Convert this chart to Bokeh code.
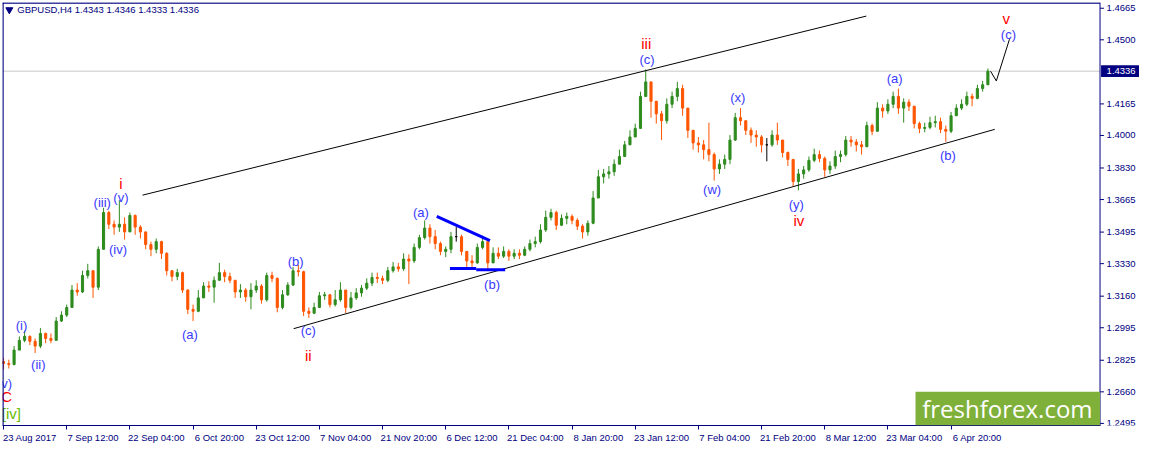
from bokeh.plotting import figure
from bokeh.models import (ColumnDataSource, Range1d, FixedTicker, Span, Label,
                          BoxAnnotation)
from bokeh.core.properties import value
from bokeh.embed import file_html
from bokeh.resources import INLINE

# GBPUSD H4, one candle per trading day (approx)
first_open = 1.2818
closes = [
    1.2808, 1.2803, 1.2878, 1.2929, 1.2950, 1.2924, 1.2899, 1.2965, 1.2939, 1.2929,
    1.3030, 1.3061, 1.3101, 1.3192, 1.3182, 1.3268, 1.3293, 1.3207, 1.3405, 1.3597,
    1.3536, 1.3521, 1.3536, 1.3496, 1.3582, 1.3521, 1.3496, 1.3430, 1.3405, 1.3445,
    1.3384, 1.3293, 1.3263, 1.3283, 1.3192, 1.3091, 1.3081, 1.3151, 1.3213, 1.3207,
    1.3243, 1.3283, 1.3263, 1.3243, 1.3182, 1.3192, 1.3157, 1.3192, 1.3213, 1.3141,
    1.3268, 1.3253, 1.3101, 1.3167, 1.3218, 1.3293, 1.3288, 1.3081, 1.3071, 1.3101,
    1.3162, 1.3167, 1.3116, 1.3141, 1.3192, 1.3101, 1.3151, 1.3177, 1.3202, 1.3228,
    1.3258, 1.3253, 1.3243, 1.3293, 1.3313, 1.3303, 1.3354, 1.3344, 1.3415, 1.3466,
    1.3516, 1.3471, 1.3435, 1.3394, 1.3405, 1.3471, 1.3471, 1.3394, 1.3344, 1.3334,
    1.3415, 1.3445, 1.3334, 1.3384, 1.3369, 1.3394, 1.3369, 1.3384, 1.3374, 1.3405,
    1.3435, 1.3445, 1.3506, 1.3572, 1.3597, 1.3531, 1.3567, 1.3577, 1.3556, 1.3526,
    1.3496, 1.3541, 1.3673, 1.3784, 1.3799, 1.3810, 1.3850, 1.3890, 1.3951, 1.3992,
    1.4037, 1.4204, 1.4280, 1.4179, 1.4113, 1.4077, 1.4163, 1.4204, 1.4245, 1.4143,
    1.4027, 1.3961, 1.3951, 1.3926, 1.3900, 1.3825, 1.3850, 1.3875, 1.3976, 1.4093,
    1.4077, 1.4027, 1.4002, 1.3992, 1.3951, 1.3951, 1.4002, 1.3976, 1.3911, 1.3875,
    1.3759, 1.3799, 1.3820, 1.3870, 1.3900, 1.3880, 1.3820, 1.3840, 1.3890, 1.3900,
    1.3976, 1.3966, 1.3951, 1.3941, 1.4052, 1.4022, 1.4143, 1.4128, 1.4163, 1.4204,
    1.4143, 1.4174, 1.4153, 1.4062, 1.4037, 1.4042, 1.4067, 1.4072, 1.4032, 1.4022,
    1.4103, 1.4143, 1.4163, 1.4204, 1.4194, 1.4245, 1.4265, 1.4336,
]
highs = [
    1.2838, 1.2828, 1.2899, 1.2950, 1.2980, 1.2955, 1.2939, 1.2994, 1.2970, 1.2965,
    1.3051, 1.3081, 1.3116, 1.3218, 1.3228, 1.3293, 1.3329, 1.3293, 1.3420, 1.3622,
    1.3607, 1.3556, 1.3663, 1.3572, 1.3597, 1.3587, 1.3531, 1.3496, 1.3445, 1.3461,
    1.3450, 1.3389, 1.3293, 1.3303, 1.3288, 1.3197, 1.3116, 1.3192, 1.3233, 1.3238,
    1.3263, 1.3334, 1.3298, 1.3283, 1.3243, 1.3223, 1.3202, 1.3228, 1.3243, 1.3223,
    1.3283, 1.3288, 1.3258, 1.3192, 1.3233, 1.3313, 1.3324, 1.3293, 1.3101, 1.3126,
    1.3182, 1.3182, 1.3172, 1.3192, 1.3233, 1.3192, 1.3182, 1.3202, 1.3218, 1.3253,
    1.3283, 1.3283, 1.3268, 1.3313, 1.3339, 1.3334, 1.3384, 1.3379, 1.3435, 1.3481,
    1.3556, 1.3536, 1.3506, 1.3445, 1.3420, 1.3496, 1.3521, 1.3481, 1.3394, 1.3374,
    1.3435, 1.3476, 1.3445, 1.3415, 1.3415, 1.3420, 1.3405, 1.3405, 1.3405, 1.3420,
    1.3456, 1.3471, 1.3536, 1.3607, 1.3617, 1.3607, 1.3587, 1.3597, 1.3587, 1.3567,
    1.3536, 1.3556, 1.3709, 1.3820, 1.3825, 1.3840, 1.3875, 1.3926, 1.3971, 1.4027,
    1.4062, 1.4229, 1.4345, 1.4280, 1.4179, 1.4128, 1.4194, 1.4229, 1.4280, 1.4265,
    1.4143, 1.4027, 1.3992, 1.3976, 1.4067, 1.3911, 1.3875, 1.3900, 1.4002, 1.4118,
    1.4143, 1.4077, 1.4042, 1.4027, 1.4002, 1.3987, 1.4027, 1.4067, 1.3976, 1.3916,
    1.3875, 1.3825, 1.3840, 1.3890, 1.3931, 1.3921, 1.3890, 1.3865, 1.3921, 1.3921,
    1.3997, 1.3997, 1.3981, 1.3971, 1.4072, 1.4062, 1.4174, 1.4163, 1.4189, 1.4229,
    1.4245, 1.4194, 1.4189, 1.4153, 1.4072, 1.4067, 1.4098, 1.4103, 1.4093, 1.4052,
    1.4123, 1.4163, 1.4189, 1.4229, 1.4219, 1.4265, 1.4285, 1.4350,
]
lows = [
    1.2777, 1.2782, 1.2798, 1.2878, 1.2919, 1.2904, 1.2863, 1.2888, 1.2914, 1.2914,
    1.2929, 1.3025, 1.3051, 1.3101, 1.3162, 1.3177, 1.3253, 1.3151, 1.3192, 1.3405,
    1.3511, 1.3481, 1.3496, 1.3456, 1.3496, 1.3481, 1.3461, 1.3405, 1.3369, 1.3384,
    1.3354, 1.3268, 1.3238, 1.3243, 1.3177, 1.3066, 1.3030, 1.3076, 1.3151, 1.3182,
    1.3126, 1.3243, 1.3233, 1.3228, 1.3151, 1.3151, 1.3131, 1.3091, 1.3177, 1.3121,
    1.3131, 1.3233, 1.3076, 1.3091, 1.3162, 1.3213, 1.3263, 1.3056, 1.3046, 1.3066,
    1.3101, 1.3141, 1.3101, 1.3106, 1.3131, 1.3071, 1.3091, 1.3141, 1.3157, 1.3192,
    1.3213, 1.3228, 1.3223, 1.3233, 1.3283, 1.3288, 1.3293, 1.3223, 1.3334, 1.3405,
    1.3456, 1.3435, 1.3405, 1.3374, 1.3364, 1.3384, 1.3445, 1.3374, 1.3313, 1.3303,
    1.3329, 1.3405, 1.3303, 1.3334, 1.3354, 1.3359, 1.3344, 1.3354, 1.3354, 1.3369,
    1.3394, 1.3415, 1.3435, 1.3496, 1.3556, 1.3506, 1.3526, 1.3536, 1.3536, 1.3506,
    1.3461, 1.3476, 1.3536, 1.3673, 1.3749, 1.3774, 1.3789, 1.3850, 1.3890, 1.3951,
    1.3992, 1.4037, 1.4204, 1.4093, 1.4062, 1.3976, 1.4062, 1.4143, 1.4179, 1.4103,
    1.3987, 1.3926, 1.3911, 1.3875, 1.3865, 1.3764, 1.3799, 1.3825, 1.3850, 1.3971,
    1.4052, 1.4002, 1.3961, 1.3941, 1.3911, 1.3865, 1.3941, 1.3951, 1.3885, 1.3840,
    1.3734, 1.3713, 1.3774, 1.3810, 1.3860, 1.3860, 1.3784, 1.3799, 1.3825, 1.3860,
    1.3890, 1.3941, 1.3916, 1.3900, 1.3941, 1.4002, 1.4022, 1.4093, 1.4113, 1.4143,
    1.4113, 1.4067, 1.4128, 1.4037, 1.4012, 1.4017, 1.4032, 1.4042, 1.4012, 1.3966,
    1.4012, 1.4103, 1.4133, 1.4153, 1.4153, 1.4189, 1.4229, 1.4265,
]
bars = list(range(len(closes)))

date_ticks = [0, 12, 24, 36, 48, 60, 72, 84, 96, 108, 120, 132, 144, 156, 168, 180]
date_labels = ["23 Aug 2017", "7 Sep 12:00", "22 Sep 04:00", "6 Oct 20:00",
               "23 Oct 12:00", "7 Nov 04:00", "21 Nov 20:00", "6 Dec 12:00",
               "21 Dec 04:00", "8 Jan 20:00", "23 Jan 12:00", "7 Feb 04:00",
               "21 Feb 20:00", "8 Mar 12:00", "23 Mar 04:00", "6 Apr 20:00"]
price_ticks = [1.2495, 1.2660, 1.2825, 1.2995, 1.3160, 1.3330, 1.3495,
               1.3665, 1.3830, 1.4000, 1.4165, 1.4500, 1.4665]
last_price = 1.4336
header = "GBPUSD,H4  1.4343 1.4346 1.4333 1.4336"

# channel and pattern lines (bar index, price)
upper_x, upper_y = [26.4, 163.9], [1.3688, 1.4624]
lower_x, lower_y = [55.1, 188.3], [1.2990, 1.4032]
tri_top_x, tri_top_y = [82.3, 92.4], [1.3577, 1.3450]
tri_low1_x, tri_low1_y = [84.8, 89.8], [1.3305, 1.3305]
tri_low2_x, tri_low2_y = [89.8, 95.3], [1.3298, 1.3298]
proj_x, proj_y = [187.5, 188.6, 191.1], [1.4336, 1.4285, 1.4503]

# wave counts
blue_text = ["(i)", "(ii)", "(iii)", "(iv)", "(v)", "(a)", "(b)", "(c)", "(a)", "(b)",
             "(c)", "(w)", "(x)", "(y)", "(a)", "(b)", "(c)", "(v)"]
blue_x = [3.4, 6.6, 18.75, 21.75, 22.3, 35.4, 55.5, 57.9, 79.3, 92.8,
          122.25, 134.6, 139.5, 150.6, 169.3, 179.4, 190.9, 0.2]
blue_y = [1.3005, 1.2802, 1.3647, 1.3405, 1.3678, 1.2960, 1.3339, 1.2980, 1.3597, 1.3223,
          1.4396, 1.3718, 1.4199, 1.3637, 1.4300, 1.3895, 1.4528, 1.2702]
red_text = ["i", "ii", "iii", "iv", "v", "C"]
red_x = [22.3, 57.9, 122.1, 151.1, 190.5, 0.6]
red_y = [1.3749, 1.2848, 1.4483, 1.3556, 1.4609, 1.2635]
green_text = ["[iv]"]
green_x = [1.5]
green_y = [1.2549]

NAVY = "#000080"
UP = "#2e8b1e"
DOWN = "#ff5500"
FONT = "Liberation Sans"
X0, X1 = -0.2, 215.8      # visible bar range, price scale sits right of AXIS_X
AXIS_X = 208.3
Y0, Y1 = 1.2484, 1.4695

opens = [first_open] + closes[:-1]
colors = [UP if c > o else DOWN if c < o else "black" for o, c in zip(opens, closes)]
src = ColumnDataSource(dict(
    x=bars, high=highs, low=lows,
    top=[max(o, c) for o, c in zip(opens, closes)],
    bottom=[min(o, c) for o, c in zip(opens, closes)],
    color=colors))

p = figure(width=1139, height=445, x_range=Range1d(X0, X1), y_range=Range1d(Y0, Y1),
           y_axis_location=None, toolbar_location=None, output_backend="svg",
           min_border_left=2, min_border_top=2, min_border_right=0, min_border_bottom=0)
p.grid.visible = False
p.outline_line_color = None
p.background_fill_color = "white"

# time axis: labels start at the tick, as in the terminal
xax = p.xaxis[0]
xax.ticker = FixedTicker(ticks=[t + 5 for t in date_ticks], minor_ticks=date_ticks)
xax.major_label_overrides = {t + 5: s for t, s in zip(date_ticks, date_labels)}
xax.bounds = (X0, AXIS_X)
xax.axis_line_color = NAVY
xax.major_tick_line_color = None
xax.major_tick_in = 0
xax.major_tick_out = 2
xax.minor_tick_line_color = NAVY
xax.minor_tick_in = 0
xax.minor_tick_out = 4
xax.major_label_standoff = 2
xax.major_label_text_color = NAVY
xax.major_label_text_font = FONT
xax.major_label_text_font_size = "9.5px"

# chart border and price scale
p.add_layout(Span(location=X0 + 0.08, dimension="height", line_color=NAVY, line_width=1.5))
p.line([X0, AXIS_X], [Y1 - 0.0003, Y1 - 0.0003], line_color=NAVY, line_width=1.5)
p.add_layout(Span(location=AXIS_X, dimension="height", line_color=NAVY, line_width=1))
p.segment(x0=[AXIS_X] * len(price_ticks), y0=price_ticks,
          x1=[AXIS_X + 0.75] * len(price_ticks), y1=price_ticks, line_color=NAVY)
p.text(x=[AXIS_X + 1.25] * len(price_ticks), y=price_ticks,
       text=["%.4f" % t for t in price_ticks], text_align="left", text_baseline="middle",
       text_font=value(FONT), text_font_size="9.5px", text_color=NAVY)

p.line([X0, AXIS_X], [last_price, last_price], line_color="#c8c8c8", line_width=1,
       level="underlay")
p.quad(left=[AXIS_X + 0.2], right=[X1], top=[last_price + 0.0031],
       bottom=[last_price - 0.0031], fill_color=NAVY, line_color=None)
p.text(x=[AXIS_X + 1.25], y=[last_price], text=["%.4f" % last_price], text_align="left",
       text_baseline="middle", text_font=value(FONT), text_font_size="9.5px",
       text_color="white")

# candles
p.segment(x0="x", y0="low", x1="x", y1="high", line_color="color", line_width=1, source=src)
p.vbar(x="x", width=0.4, top="top", bottom="bottom", fill_color="color",
       line_color="color", line_width=1, source=src)

p.line(upper_x, upper_y, line_color="black", line_width=1)
p.line(lower_x, lower_y, line_color="black", line_width=1)
p.line(proj_x, proj_y, line_color="black", line_width=1)
for xs, ys in [(tri_top_x, tri_top_y), (tri_low1_x, tri_low1_y), (tri_low2_x, tri_low2_y)]:
    p.line(xs, ys, line_color="#0000ff", line_width=3)

p.text(x=blue_x, y=blue_y, text=blue_text, text_align="center", text_baseline="middle",
       text_font=value(FONT), text_font_size="13px", text_color="#3a3aff")
p.text(x=red_x, y=red_y, text=red_text, text_align="center", text_baseline="middle",
       text_font=value(FONT), text_font_size="15px", text_color="#ff0000")
p.text(x=green_x, y=green_y, text=green_text, text_align="center", text_baseline="middle",
       text_font=value(FONT), text_font_size="15px", text_color="#66bb00")

# header line
p.scatter([1.1], [1.4657], marker="inverted_triangle", size=7, color=NAVY)
p.add_layout(Label(x=2.6, y=1.4657, text=header, text_baseline="middle",
                   text_font=FONT, text_font_size="9.5px", text_color=NAVY))

# watermark
p.add_layout(BoxAnnotation(left=173.25, right=AXIS_X, top=1.2661, fill_color="#7fb03a",
                           fill_alpha=1, line_color=None))
p.add_layout(Label(x=190.7, y=1.2575, text="freshforex.com", text_align="center",
                   text_baseline="middle", text_color="white", text_font="Open Sans",
                   text_font_size="24px"))

open("out.html", "w").write(file_html(p, INLINE))
